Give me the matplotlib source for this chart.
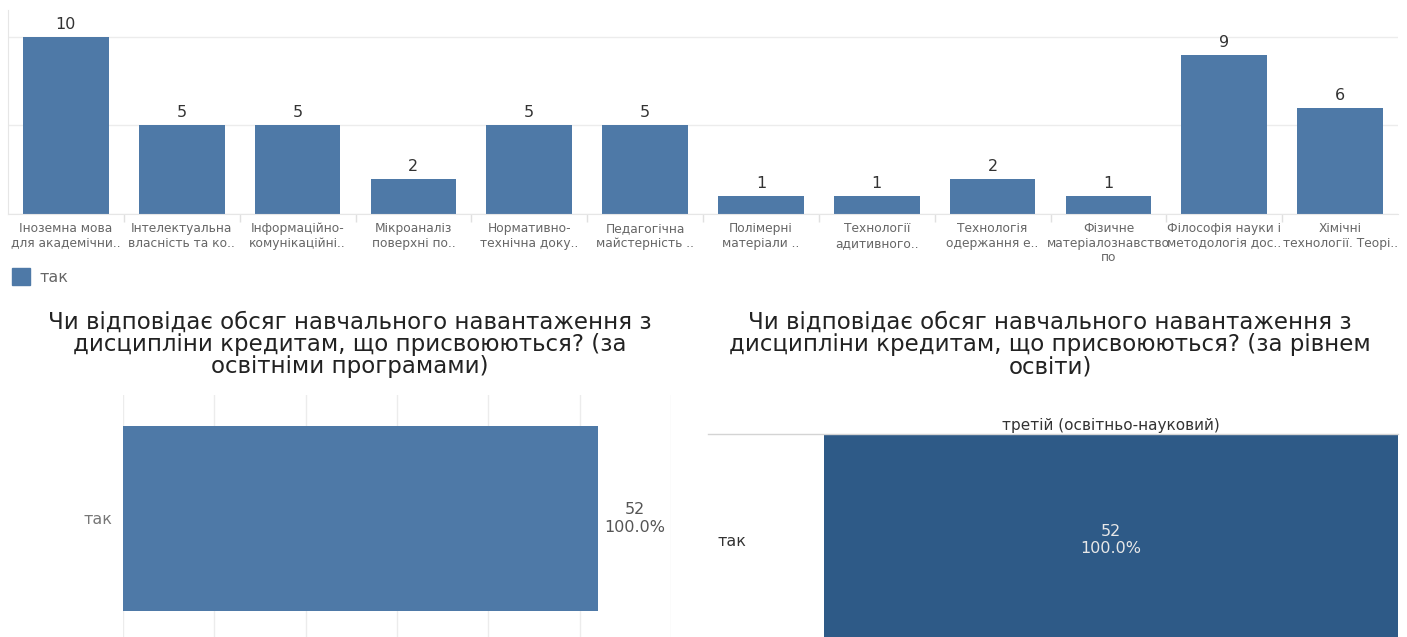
import matplotlib
matplotlib.use("Agg")
from matplotlib import pyplot as plt
from matplotlib.patches import Rectangle
from matplotlib.lines import Line2D

plt.rcParams['font.family'] = ['DejaVu Sans']

# top chart: counts per discipline
disciplines = [
    'Іноземна мова\nдля академічни..',
    'Інтелектуальна\nвласність та ко..',
    'Інформаційно-\nкомунікаційні..',
    'Мікроаналіз\nповерхні по..',
    'Нормативно-\nтехнічна доку..',
    'Педагогічна\nмайстерність ..',
    'Полімерні\nматеріали ..',
    'Технології\nадитивного..',
    'Технологія\nодержання е..',
    'Фізичне\nматеріалознавство\nпо',
    'Філософія науки і\nметодологія дос..',
    'Хімічні\nтехнології. Теорі..',
]
counts = [10, 5, 5, 2, 5, 5, 1, 1, 2, 1, 9, 6]
legend_label = 'так'

# bottom charts
answers = ['так']
answer_counts = [52]
answer_pct = [100.0]
level = 'третій (освітньо-науковий)'

title_left = ('Чи відповідає обсяг навчального навантаження з\n'
              'дисципліни кредитам, що присвоюються? (за\n'
              'освітніми програмами)')
title_right = ('Чи відповідає обсяг навчального навантаження з\n'
               'дисципліни кредитам, що присвоюються? (за рівнем\n'
               'освіти)')

blue = '#4e79a7'
dark_blue = '#2e5a87'
grid_c = '#ececec'
tick_c = '#666666'
W, H = 1407, 637


def fx(px):
    return px / W


def fy(py):
    return (H - py) / H


fig = plt.figure(figsize=(14.07, 6.37), dpi=100)

# ---- top bar chart ----
ax = fig.add_axes([fx(8), fy(214), fx(1398) - fx(8), fy(10) - fy(214)])
x = range(len(counts))
bars = ax.bar(x, counts, width=0.74, color=blue, zorder=2)
for b, v in zip(bars, counts):
    ax.annotate(str(v), (b.get_x() + b.get_width() / 2, v), xytext=(0, 5),
                textcoords='offset pixels', ha='center', va='bottom',
                fontsize=11.5, color='#333333')
ax.set_xlim(-0.5, len(counts) - 0.5)
ax.set_ylim(0, 11.52)
ax.set_yticks([0, 5, 10])
ax.set_yticklabels([])
ax.tick_params(axis='y', length=0)
ax.grid(axis='y', color=grid_c, linewidth=1, zorder=0)
ax.set_xticks(list(x))
ax.set_xticklabels(disciplines, fontsize=8.8, color=tick_c, linespacing=1.15)
ax.tick_params(axis='x', length=0, pad=6)
ax.set_xticks([i + 0.5 for i in range(len(counts) - 1)], minor=True)
ax.tick_params(axis='x', which='minor', length=6, color='#e0e0e0', width=1)
for s in ['top', 'right']:
    ax.spines[s].set_visible(False)
ax.spines['left'].set_color('#e6e6e6')
ax.spines['bottom'].set_color('#e6e6e6')

# legend
fig.patches.append(Rectangle((fx(12), fy(285)), fx(18), fy(268) - fy(285),
                             color=blue, transform=fig.transFigure))
fig.text(fx(40), fy(277), legend_label, fontsize=11.5, color=tick_c, va='center')

# ---- titles ----
fig.text(fx(350), fy(311), title_left, ha='center', va='top', fontsize=16.5,
         color='#222222', linespacing=0.95)
fig.text(fx(1050), fy(311), title_right, ha='center', va='top', fontsize=16.5,
         color='#222222', linespacing=0.95)

# ---- bottom left: horizontal bar ----
ax2 = fig.add_axes([fx(123), 0, fx(671) - fx(123), fy(395)])
ax2.barh(answers, answer_counts, height=1.0, color=blue, zorder=2)
for a, v, p in zip(answers, answer_counts, answer_pct):
    ax2.annotate(f'{v}\n{p:.1f}%', (v, a), xytext=(37, 0),
                 textcoords='offset pixels', ha='center', va='center',
                 fontsize=11.5, color='#555555', multialignment='center',
                 linespacing=1.2)
ax2.set_xlim(0, 60)
ax2.set_ylim(-0.641, 0.668)
ax2.set_xticks(range(0, 61, 10))
ax2.set_xticklabels([])
ax2.tick_params(axis='x', length=0)
ax2.tick_params(axis='y', length=0, pad=8, labelsize=11.5, labelcolor='#777777')
ax2.grid(axis='x', color=grid_c, linewidth=1, zorder=0)
for s in ax2.spines.values():
    s.set_visible(False)

# ---- bottom right: highlight table ----
ax3 = fig.add_axes([fx(824), 0, fx(1398) - fx(824), fy(435)])
ax3.barh(answers, [1], height=1.0, color=dark_blue)
for a, v, p in zip(answers, answer_counts, answer_pct):
    ax3.text(0.5, a, f'{v}\n{p:.1f}%', ha='center', va='center', fontsize=11.5,
             color='#e8e8e8', linespacing=1.2)
ax3.set_xlim(0, 1)
ax3.set_ylim(-0.462, 0.5)
ax3.set_xticks([])
ax3.tick_params(axis='y', length=0, pad=106 * 72 / 100, labelsize=11.5,
                labelcolor='#333333')
for lbl in ax3.get_yticklabels():
    lbl.set_horizontalalignment('left')
for s in ax3.spines.values():
    s.set_visible(False)
ax3.annotate(level, (0.5, 1), xycoords='axes fraction', xytext=(0, 10),
             textcoords='offset pixels', ha='center', va='center',
             fontsize=11, color='#333333')
fig.add_artist(Line2D([fx(708), fx(1398)], [fy(434), fy(434)],
                      color='#d4d4d4', linewidth=1, transform=fig.transFigure))

fig.savefig('out.png', dpi=100)
